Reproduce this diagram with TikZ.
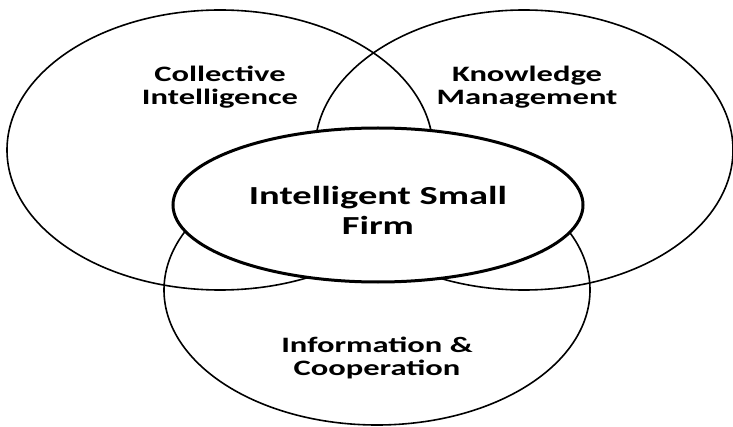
\documentclass[tikz,border=0pt]{standalone}
\usepackage{fontspec}
\setmainfont{Carlito}
% wide bold lettering for the field names
\newfontfamily\widefont[FakeStretch=1.48]{Carlito}
\usetikzlibrary{shapes.geometric}
\begin{document}
\begin{tikzpicture}[x=1pt,y=1pt,
  ring/.style={ellipse, draw, line width=1.6pt, inner sep=0pt, outer sep=0pt},
  core/.style={ellipse, draw, fill=white, line width=3pt, inner sep=0pt, outer sep=0pt},
  label/.style={align=center, inner sep=0pt, font=\widefont\fontsize{22}{23}\selectfont\bfseries},
  biglabel/.style={align=center, inner sep=0pt, font=\widefont\fontsize{26}{30}\selectfont\bfseries}]
\useasboundingbox (0,0) rectangle (733,426);
% three overlapping fields
\node[ring, minimum width=426pt, minimum height=280pt] (ci) at (220,276) {};
\node[ring, minimum width=418pt, minimum height=280pt] (km) at (524,276) {};
\node[ring, minimum width=426pt, minimum height=270pt] (ic) at (377,136) {};
% central firm
\node[core, minimum width=410pt, minimum height=154pt] (firm) at (378,221) {};
% labels
\node[label] (tci) at (220,339) {Collective\\Intelligence};
\node[label] (tkm) at (527,339) {Knowledge\\Management};
\node[label] (tic) at (377,68) {Information \&\\Cooperation};
\node[biglabel] (tfirm) at (378,216) {Intelligent Small\\Firm};
\end{tikzpicture}
\end{document}
